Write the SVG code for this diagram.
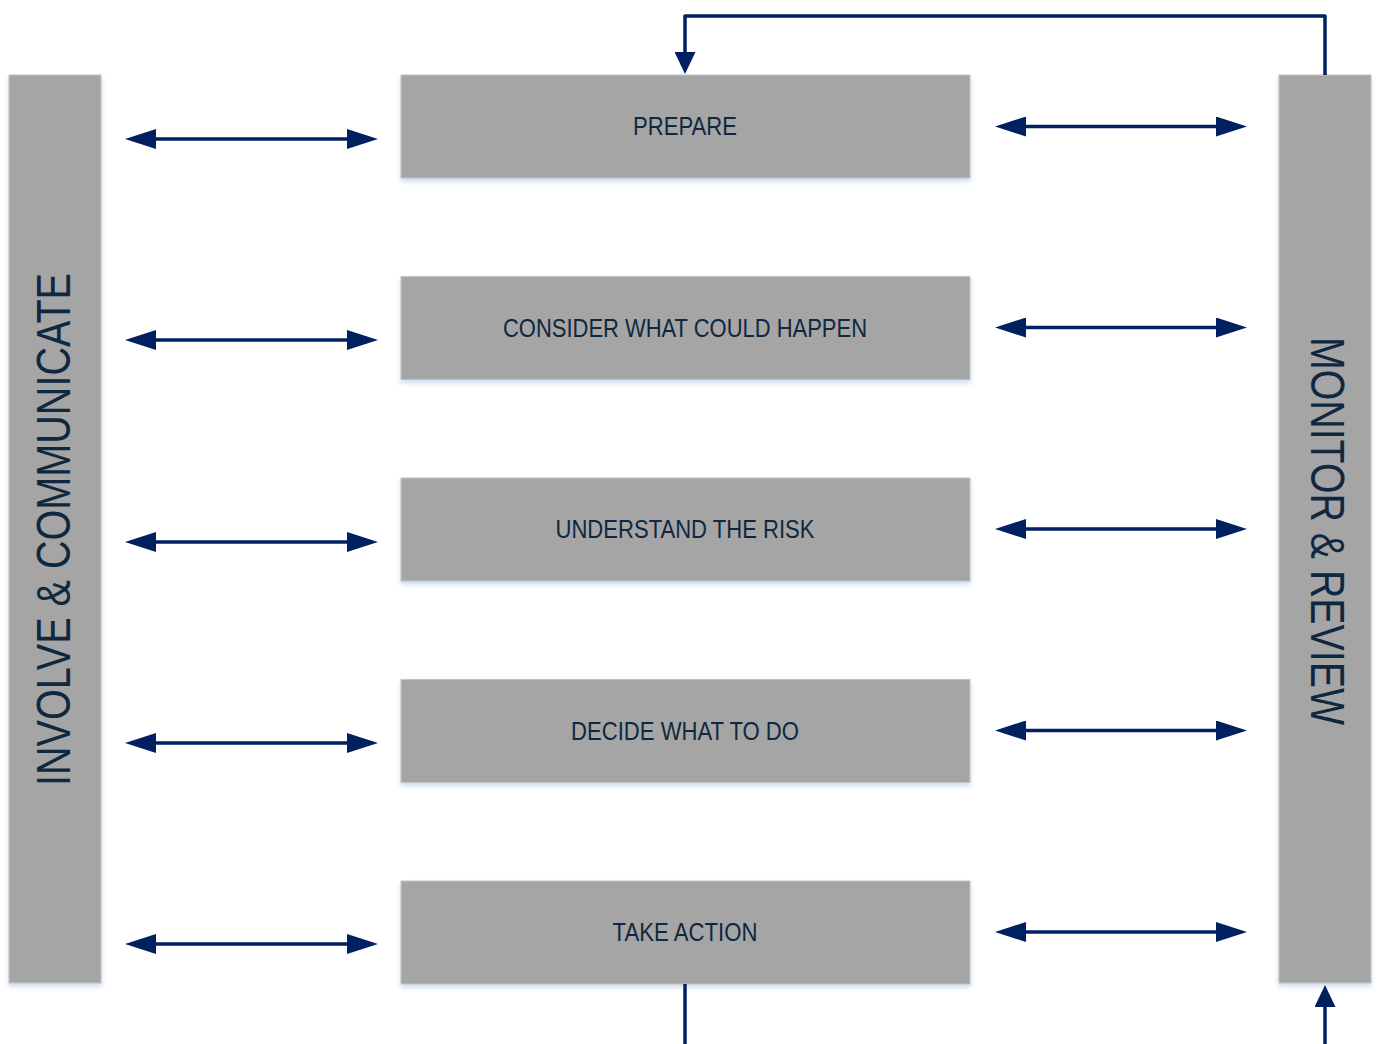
<svg xmlns="http://www.w3.org/2000/svg" width="1379" height="1044" viewBox="0 0 1379 1044">
<defs>
<style>
.box{fill:#A5A5A5;stroke:#C3C3C3;stroke-width:1;filter:url(#glow);}
.lbl{font-family:"Liberation Sans",Arial,sans-serif;font-size:25.5px;fill:#0F2840;text-anchor:middle;}
.big{font-family:"Liberation Sans",Arial,sans-serif;font-size:48px;fill:#0F2840;text-anchor:middle;}
.ln{stroke:#002060;stroke-width:3.5;fill:none;}
</style>
<filter id="glow" x="-5%" y="-10%" width="110%" height="130%">
<feDropShadow dx="0" dy="3" stdDeviation="2.5" flood-color="#BFD3EE" flood-opacity="0.8"/>
</filter>
<marker id="hh" markerUnits="userSpaceOnUse" viewBox="0 -10 31 20" markerWidth="31" markerHeight="20" refX="1" refY="0" orient="auto-start-reverse">
<path d="M0,-10 L31,0 L0,10 z" fill="#002060"/>
</marker>
<marker id="hv" markerUnits="userSpaceOnUse" viewBox="0 -10.5 22 21" markerWidth="22" markerHeight="21" refX="1" refY="0" orient="auto">
<path d="M0,-10.5 L22,0 L0,10.5 z" fill="#002060"/>
</marker>
</defs>
<rect width="1379" height="1044" fill="#FFFFFF"/>

<g id="involve">
<rect class="box" x="9" y="75" width="92" height="908"/>
<text class="big" transform="translate(70,529.5) rotate(-90)" textLength="513" lengthAdjust="spacingAndGlyphs">INVOLVE &amp; COMMUNICATE</text>
</g>
<g id="monitor">
<rect class="box" x="1279" y="75" width="92" height="908"/>
<text class="big" transform="translate(1311,531) rotate(90)" textLength="388" lengthAdjust="spacingAndGlyphs">MONITOR &amp; REVIEW</text>
</g>
<g id="prepare">
<rect class="box" x="401" y="75" width="569" height="103"/>
<text class="lbl" x="685" y="135" textLength="104" lengthAdjust="spacingAndGlyphs">PREPARE</text>
</g>
<g id="consider">
<rect class="box" x="401" y="276.5" width="569" height="103"/>
<text class="lbl" x="685" y="336.5" textLength="364" lengthAdjust="spacingAndGlyphs">CONSIDER WHAT COULD HAPPEN</text>
</g>
<g id="understand">
<rect class="box" x="401" y="478" width="569" height="103"/>
<text class="lbl" x="685" y="538" textLength="259" lengthAdjust="spacingAndGlyphs">UNDERSTAND THE RISK</text>
</g>
<g id="decide">
<rect class="box" x="401" y="679.5" width="569" height="103"/>
<text class="lbl" x="685" y="739.5" textLength="228" lengthAdjust="spacingAndGlyphs">DECIDE WHAT TO DO</text>
</g>
<g id="action">
<rect class="box" x="401" y="881" width="569" height="103"/>
<text class="lbl" x="685" y="941" textLength="145" lengthAdjust="spacingAndGlyphs">TAKE ACTION</text>
</g>

<g id="connectors">
<line class="ln" x1="155" y1="139" x2="348" y2="139" marker-start="url(#hh)" marker-end="url(#hh)"/>
<line class="ln" x1="155" y1="340" x2="348" y2="340" marker-start="url(#hh)" marker-end="url(#hh)"/>
<line class="ln" x1="155" y1="542" x2="348" y2="542" marker-start="url(#hh)" marker-end="url(#hh)"/>
<line class="ln" x1="155" y1="743" x2="348" y2="743" marker-start="url(#hh)" marker-end="url(#hh)"/>
<line class="ln" x1="155" y1="944" x2="348" y2="944" marker-start="url(#hh)" marker-end="url(#hh)"/>
<line class="ln" x1="1025" y1="126.5" x2="1217" y2="126.5" marker-start="url(#hh)" marker-end="url(#hh)"/>
<line class="ln" x1="1025" y1="327.5" x2="1217" y2="327.5" marker-start="url(#hh)" marker-end="url(#hh)"/>
<line class="ln" x1="1025" y1="529" x2="1217" y2="529" marker-start="url(#hh)" marker-end="url(#hh)"/>
<line class="ln" x1="1025" y1="730.5" x2="1217" y2="730.5" marker-start="url(#hh)" marker-end="url(#hh)"/>
<line class="ln" x1="1025" y1="932" x2="1217" y2="932" marker-start="url(#hh)" marker-end="url(#hh)"/>
<path class="ln" d="M1325,75 V16 H685 V53" stroke-linejoin="round" marker-end="url(#hv)"/>
<path class="ln" d="M685,984 V1044"/>
<path class="ln" d="M1325,1044 V1006" marker-end="url(#hv)"/>
</g>
</svg>
